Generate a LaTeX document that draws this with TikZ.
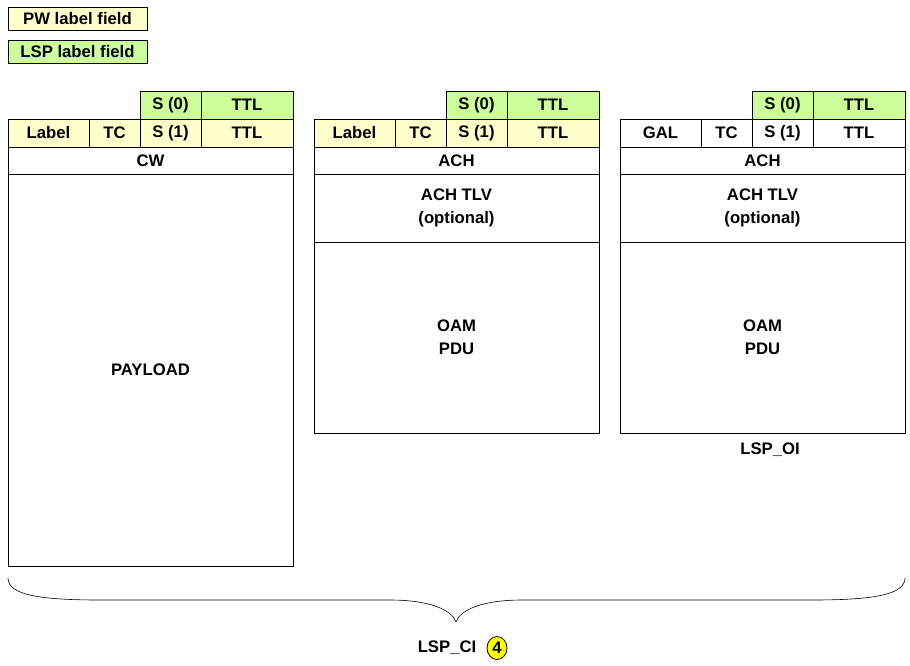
\documentclass[tikz,border=0pt]{standalone}
\usepackage{fontspec}
\setmainfont{Liberation Sans}
\usetikzlibrary{shapes.geometric}
\definecolor{pwyellow}{HTML}{FFFFCC}
\definecolor{lspgreen}{HTML}{CCFF99}
\definecolor{numyellow}{HTML}{FFFF00}
\tikzset{
  cellbox/.style={draw=black, line width=0.8pt, inner sep=0pt, outer sep=0pt, align=center,
    font=\fontsize{16.7}{23}\selectfont\bfseries},
  plaintext/.style={inner sep=0pt, font=\fontsize{16.7}{23}\selectfont\bfseries},
  bracestyle/.style={draw=black, line width=0.6pt},
  numbadge/.style={ellipse, draw=black, line width=0.8pt, fill=numyellow, inner sep=0pt,
    minimum width=20pt, minimum height=23pt, font=\fontsize{16.7}{23}\selectfont\bfseries}
}
\newcommand{\mycell}[7]{%
  \node[cellbox, fill=#6, minimum width={(#4-#2)*1pt}, minimum height={(#5-#3)*1pt}]
    (#1) at ({(#2+#4)/2},{(#3+#5)/2}) {#7};}
\begin{document}
\begin{tikzpicture}[x=1pt,y=-1pt]
\useasboundingbox (0,0) rectangle (910,665);
% legend
\mycell{legpw}{8}{7}{147}{30}{pwyellow}{PW label field}
\mycell{leglsp}{8}{40}{147}{63}{lspgreen}{LSP label field}
% left stack
\mycell{aszero}{140}{91}{201}{119}{lspgreen}{S (0)}
\mycell{attltop}{201}{91}{293}{119}{lspgreen}{TTL}
\mycell{alabel}{8}{119}{89}{147}{pwyellow}{Label}
\mycell{atc}{89}{119}{140}{147}{pwyellow}{TC}
\mycell{asone}{140}{119}{201}{147}{pwyellow}{S (1)}
\mycell{attl}{201}{119}{293}{147}{pwyellow}{TTL}
\mycell{acw}{8}{147}{293}{174}{white}{CW}
\mycell{apayload}{8}{174}{293}{566}{white}{PAYLOAD}
% middle stack
\mycell{bszero}{446}{91}{507}{119}{lspgreen}{S (0)}
\mycell{bttltop}{507}{91}{599}{119}{lspgreen}{TTL}
\mycell{blabel}{314}{119}{395}{147}{pwyellow}{Label}
\mycell{btc}{395}{119}{446}{147}{pwyellow}{TC}
\mycell{bsone}{446}{119}{507}{147}{pwyellow}{S (1)}
\mycell{bttl}{507}{119}{599}{147}{pwyellow}{TTL}
\mycell{bach}{314}{147}{599}{174}{white}{ACH}
\mycell{btlv}{314}{174}{599}{242}{white}{ACH TLV\\(optional)}
\mycell{boam}{314}{242}{599}{433}{white}{OAM\\PDU}
% right stack
\mycell{cszero}{752}{91}{813}{119}{lspgreen}{S (0)}
\mycell{cttltop}{813}{91}{905}{119}{lspgreen}{TTL}
\mycell{cgal}{620}{119}{701}{147}{white}{GAL}
\mycell{ctc}{701}{119}{752}{147}{white}{TC}
\mycell{csone}{752}{119}{813}{147}{white}{S (1)}
\mycell{cttl}{813}{119}{905}{147}{white}{TTL}
\mycell{cach}{620}{147}{905}{174}{white}{ACH}
\mycell{ctlv}{620}{174}{905}{242}{white}{ACH TLV\\(optional)}
\mycell{coam}{620}{242}{905}{433}{white}{OAM\\PDU}
\node[plaintext] (lspoi) at (770,450) {LSP\_OI};
% brace
\draw[bracestyle] (8,578) .. controls (8,595) and (40,600) .. (100,600)
  -- (390,600) .. controls (430,600) and (452,610) .. (456,622)
  .. controls (460,610) and (482,600) .. (522,600)
  -- (812,600) .. controls (872,600) and (905,595) .. (905,578);
\node[plaintext] (lspci) at (447,648) {LSP\_CI};
\node[numbadge] (num) at (497,648) {4};
\end{tikzpicture}
\end{document}
